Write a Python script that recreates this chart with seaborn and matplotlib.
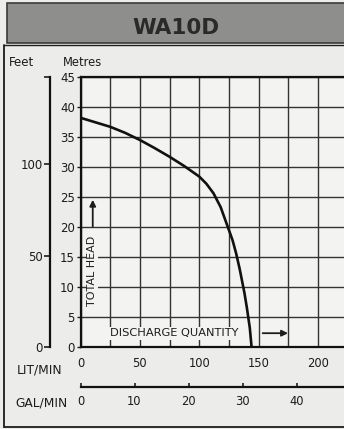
import matplotlib
matplotlib.use('Agg')
import matplotlib.pyplot as plt
from matplotlib.patches import Rectangle
from matplotlib.lines import Line2D
import seaborn as sns
import pandas as pd

# pump curve (flow in litres/min, head in metres)
flow_lpm = [0, 10, 25, 37.5, 50, 62, 75, 87, 100, 106, 112, 118, 124, 128, 131, 134, 138, 140, 142.5, 144]
head_m = [38.2, 37.6, 36.7, 35.7, 34.5, 33.2, 31.7, 30.2, 28.4, 27.2, 25.6, 23.3, 20.0, 17.8, 15.6, 13.0, 9.0, 6.6, 3.2, 0.0]

metre_ticks = [0, 5, 10, 15, 20, 25, 30, 35, 40, 45]
lpm_ticks = [0, 50, 100, 150, 200]
feet_ticks = [0, 50, 100]
gal_ticks = [0, 10, 20, 30, 40]

M_TO_FT = 3.2808
LPM_PER_GAL = 4.546

df = pd.DataFrame({'flow': flow_lpm, 'head': head_m})

sns.set_theme(style='white')
plt.rcParams['font.family'] = ['DejaVu Sans']

W, H = 344, 429
bg = '#ececea'
ink = '#1c1c1c'

fig = plt.figure(figsize=(W / 100, H / 100), dpi=100, facecolor=bg)

def fx(px):
    return px / W

def fy(py):
    return 1 - py / H

# title bar
fig.patches.append(Rectangle((fx(7), fy(43)), 1, 40 / H, transform=fig.transFigure,
                             facecolor='#8e8e8c', edgecolor='#3a3a3a', lw=1.2))
fig.text(fx(176), fy(28), 'WA10D', ha='center', va='center', fontsize=15.5,
         fontweight='bold', color='#2a2a2a')

# outer box lines
fig.lines.append(Line2D([fx(4), fx(4)], [fy(45), fy(427)], transform=fig.transFigure, color=ink, lw=1.3))
fig.lines.append(Line2D([fx(4), 1], [fy(427), fy(427)], transform=fig.transFigure, color=ink, lw=1.3))
fig.lines.append(Line2D([fx(4), 1], [fy(45), fy(45)], transform=fig.transFigure, color=ink, lw=1.0))

ax = fig.add_axes([fx(80.5), 1 - 347 / H, 267.3 / W, 270 / H])
ax.set_facecolor('#f3f3f1')

sns.lineplot(data=df, x='flow', y='head', ax=ax, color='#111111', lw=1.9, zorder=5)

ax.set_xlim(0, 225)
ax.set_ylim(0, 45)
ax.set_xticks(list(range(0, 226, 25)), minor=True)
ax.set_xticks(lpm_ticks)
ax.set_yticks(metre_ticks)
ax.grid(True, which='both', color='#333333', lw=1.0)
ax.set_axisbelow(True)
for s in ax.spines.values():
    s.set_color('#111111')
    s.set_linewidth(1.6)
ax.tick_params(axis='x', which='both', length=0, pad=7, labelsize=8.3, colors=ink)
ax.tick_params(axis='y', length=3, width=1, pad=1, labelsize=8.5, colors=ink, left=True)
ax.set_xlabel('')
ax.set_ylabel('')

# feet scale on the left
feet = ax.secondary_yaxis(-0.1141, functions=(lambda m: m * M_TO_FT, lambda f: f / M_TO_FT))
feet.set_yticks(feet_ticks + [45 * M_TO_FT])
feet.set_yticklabels([str(t) for t in feet_ticks] + [''])
feet.tick_params(length=4, width=1.2, pad=1, labelsize=8.5, colors=ink)
feet.spines['left'].set_linewidth(1.6)
feet.spines['left'].set_color('#111111')

# gallons per minute scale underneath
gal = ax.secondary_xaxis(-0.148, functions=(lambda q: q / LPM_PER_GAL, lambda g: g * LPM_PER_GAL))
gal.set_xticks(gal_ticks)
gal.tick_params(direction='in', length=3, width=1.2, pad=6, labelsize=8.3, colors=ink)
gal.spines['bottom'].set_linewidth(1.6)
gal.spines['bottom'].set_color('#111111')

# in-plot labels with arrows
box = dict(facecolor='#f3f3f1', edgecolor='none', pad=1)
ax.text(9.7, 12.7, 'TOTAL HEAD', rotation=90, ha='center', va='center',
        fontsize=8, color=ink, bbox=box, zorder=4)
ax.annotate('', xy=(10.3, 25.0), xytext=(10.3, 19.6),
            arrowprops=dict(arrowstyle='-|>', color=ink, lw=1.3, mutation_scale=9), zorder=4)
ax.text(24.5, 2.3, 'DISCHARGE QUANTITY', ha='left', va='center',
        fontsize=8.2, color=ink, bbox=box, zorder=4)
ax.annotate('', xy=(177, 2.3), xytext=(151, 2.3),
            arrowprops=dict(arrowstyle='-|>', color=ink, lw=1.3, mutation_scale=9), zorder=4)

# axis captions
fig.text(fx(22), fy(62), 'Feet', ha='center', va='center', fontsize=8.5, color=ink)
fig.text(fx(82), fy(62), 'Metres', ha='center', va='center', fontsize=8.3, color=ink)
fig.text(fx(40), fy(370), 'LIT/MIN', ha='center', va='center', fontsize=8.8, color=ink)
fig.text(fx(41), fy(403), 'GAL/MIN', ha='center', va='center', fontsize=8.8, color=ink)

fig.savefig('out.png', dpi=100, facecolor=bg)
